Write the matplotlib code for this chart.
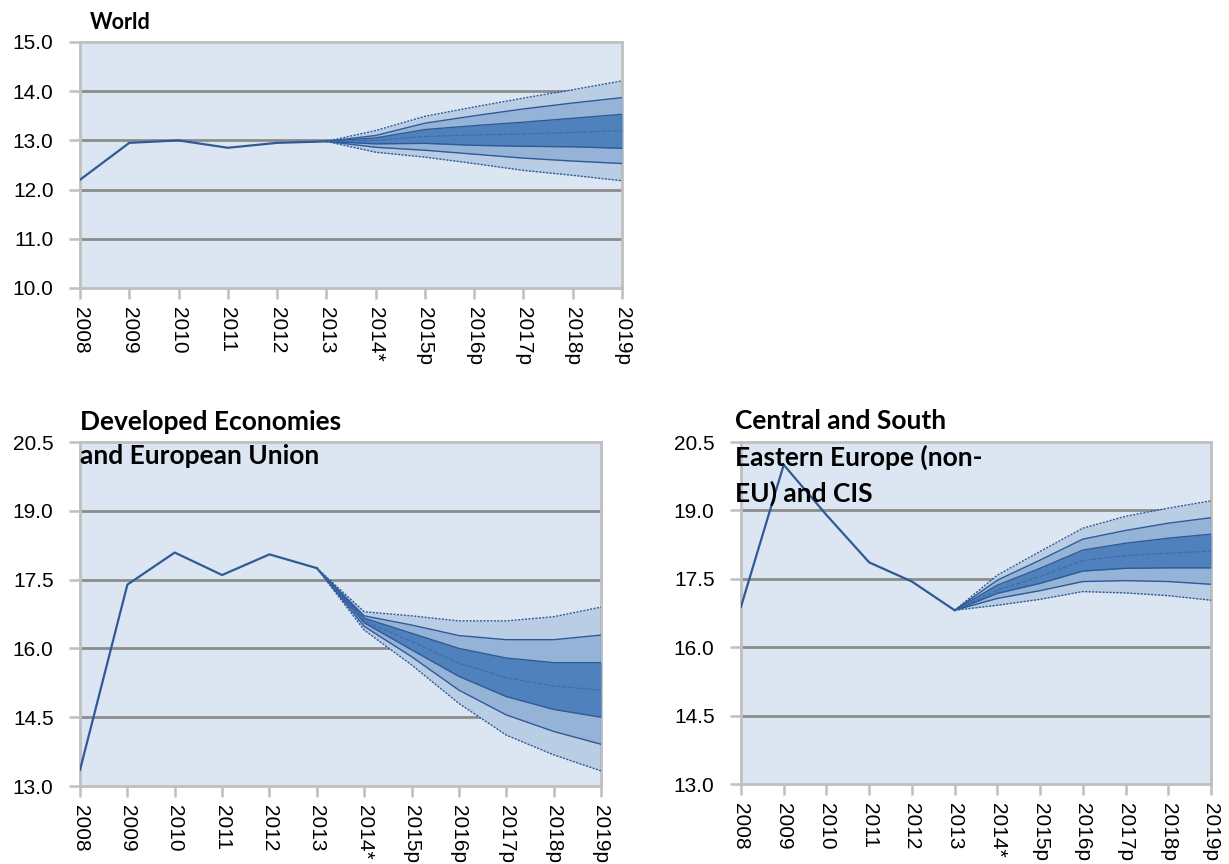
import matplotlib.pyplot as plt
from matplotlib import font_manager

YEARS = ["2008", "2009", "2010", "2011", "2012", "2013",
         "2014*", "2015p", "2016p", "2017p", "2018p", "2019p"]

# World
world_hist = [12.2, 12.95, 13.0, 12.85, 12.95, 12.98]
world_outer_hi = [13.2, 13.49, 13.68, 13.86, 14.03, 14.21]
world_mid_hi = [13.1, 13.35, 13.5, 13.64, 13.76, 13.87]
world_inner_hi = [13.05, 13.22, 13.3, 13.37, 13.45, 13.53]
world_center = [13.0, 13.08, 13.11, 13.13, 13.16, 13.2]
world_inner_lo = [12.93, 12.94, 12.9, 12.88, 12.87, 12.84]
world_mid_lo = [12.86, 12.8, 12.72, 12.64, 12.58, 12.53]
world_outer_lo = [12.76, 12.66, 12.53, 12.39, 12.29, 12.18]

# Developed Economies and European Union
dev_hist = [13.35, 17.39, 18.09, 17.6, 18.05, 17.75]
dev_outer_hi = [16.8, 16.71, 16.6, 16.6, 16.69, 16.9]
dev_mid_hi = [16.71, 16.51, 16.28, 16.19, 16.19, 16.29]
dev_inner_hi = [16.66, 16.33, 16.0, 15.79, 15.69, 15.69]
dev_center = [16.6, 16.15, 15.68, 15.36, 15.18, 15.09]
dev_inner_lo = [16.56, 15.97, 15.39, 14.95, 14.67, 14.5]
dev_mid_lo = [16.48, 15.82, 15.09, 14.55, 14.19, 13.91]
dev_outer_lo = [16.4, 15.64, 14.8, 14.11, 13.68, 13.33]

# Central and South Eastern Europe (non-EU) and CIS
csee_hist = [16.89, 20.0, 18.9, 17.86, 17.44, 16.81]
csee_outer_hi = [17.58, 18.1, 18.61, 18.87, 19.05, 19.21]
csee_mid_hi = [17.47, 17.91, 18.37, 18.56, 18.72, 18.84]
csee_inner_hi = [17.36, 17.73, 18.13, 18.28, 18.39, 18.48]
csee_center = [17.25, 17.55, 17.9, 18.01, 18.06, 18.11]
csee_inner_lo = [17.18, 17.4, 17.67, 17.73, 17.74, 17.74]
csee_mid_lo = [17.07, 17.24, 17.44, 17.46, 17.44, 17.38]
csee_outer_lo = [16.92, 17.05, 17.22, 17.19, 17.13, 17.03]

BG = "#DCE6F2"
OUTER = "#B9CDE5"
MID = "#95B3D7"
INNER = "#4F81BD"
LINE = "#2F5A96"
GRID = "#8C8C8C"
FRAME = "#BFBFBF"

names = {f.name for f in font_manager.fontManager.ttflist}
TICK_FONT = "Liberation Sans Narrow" if "Liberation Sans Narrow" in names else "Liberation Sans"
TICK_SIZE = 19 if TICK_FONT == "Liberation Sans Narrow" else 15
TITLE_FONT = "Lato"


def fan_panel(ax, hist, bands, yticks):
    outer_hi, mid_hi, inner_hi, center, inner_lo, mid_lo, outer_lo = bands
    n_hist = len(hist)
    x_hist = list(range(n_hist))
    x_fc = list(range(n_hist - 1, len(YEARS)))
    start = hist[-1]

    def fc(vals):
        return [start] + list(vals)

    ax.set_facecolor(BG)
    ax.fill_between(x_fc, fc(outer_lo), fc(outer_hi), color=OUTER, lw=0, zorder=2)
    ax.fill_between(x_fc, fc(mid_lo), fc(mid_hi), color=MID, lw=0, zorder=3)
    ax.fill_between(x_fc, fc(inner_lo), fc(inner_hi), color=INNER, lw=0, zorder=4)

    for vals in (outer_hi, outer_lo):
        ax.plot(x_fc, fc(vals), color=LINE, lw=1.0, ls=(0, (1.5, 1.0)), zorder=5)
    for vals in (mid_hi, mid_lo, inner_hi, inner_lo):
        ax.plot(x_fc, fc(vals), color=LINE, lw=1.0, zorder=5)
    ax.plot(x_fc, fc(center), color="#3E6BA8", lw=0.8, ls=(0, (4, 1.5)), zorder=5)
    ax.vlines(x_fc[-1], outer_lo[-1], outer_hi[-1], color=LINE, lw=0.9,
              ls=(0, (1.5, 1.0)), zorder=5)

    ax.plot(x_hist, hist, color=LINE, lw=1.6, zorder=6)

    ax.set_xlim(0, len(YEARS) - 1)
    ax.set_ylim(yticks[0], yticks[-1])
    ax.set_yticks(yticks)
    ax.set_yticklabels([f"{v:.1f}" for v in yticks], fontsize=TICK_SIZE,
                       family=TICK_FONT)
    ax.set_xticks(range(len(YEARS)))
    ax.set_xticklabels(YEARS, rotation=-90, fontsize=TICK_SIZE, family=TICK_FONT,
                       ha="center", va="top")
    for y in yticks[1:-1]:
        ax.axhline(y, color=GRID, lw=2.0, zorder=1)

    for side in ("left", "right", "top", "bottom"):
        ax.spines[side].set_color(FRAME)
        ax.spines[side].set_linewidth(2.0)
    ax.tick_params(axis="x", length=8, width=1.8, color=FRAME, pad=6)
    ax.tick_params(axis="y", length=8, width=1.8, color=FRAME, pad=11)


W, H = 1229, 864
fig = plt.figure(figsize=(W / 100, H / 100), dpi=100)


def add_axes(x0, x1, y0, y1):
    return fig.add_axes([x0 / W, 1 - y1 / H, (x1 - x0) / W, (y1 - y0) / H])


ax_world = add_axes(80, 622, 42, 288)
fan_panel(ax_world, world_hist,
          (world_outer_hi, world_mid_hi, world_inner_hi, world_center,
           world_inner_lo, world_mid_lo, world_outer_lo),
          [10.0, 11.0, 12.0, 13.0, 14.0, 15.0])

ax_dev = add_axes(80, 601, 442, 786)
fan_panel(ax_dev, dev_hist,
          (dev_outer_hi, dev_mid_hi, dev_inner_hi, dev_center,
           dev_inner_lo, dev_mid_lo, dev_outer_lo),
          [13.0, 14.5, 16.0, 17.5, 19.0, 20.5])

ax_csee = add_axes(741, 1211, 442, 784)
fan_panel(ax_csee, csee_hist,
          (csee_outer_hi, csee_mid_hi, csee_inner_hi, csee_center,
           csee_inner_lo, csee_mid_lo, csee_outer_lo),
          [13.0, 14.5, 16.0, 17.5, 19.0, 20.5])

title_kw = dict(fontweight="bold", family=TITLE_FONT,
                ha="left", va="baseline", color="black")
fig.text(90 / W, 1 - 29 / H, "World", fontsize=15.5, **title_kw)
fig.text(80 / W, 1 - 430 / H, "Developed Economies", fontsize=19, **title_kw)
fig.text(80 / W, 1 - 464 / H, "and European Union", fontsize=19, **title_kw)
fig.text(735 / W, 1 - 429 / H, "Central and South", fontsize=19, **title_kw)
fig.text(735 / W, 1 - 466 / H, "Eastern Europe (non-", fontsize=19, **title_kw)
fig.text(735 / W, 1 - 502 / H, "EU) and CIS", fontsize=19, **title_kw)

fig.savefig("out.png", dpi=100, facecolor="white")
